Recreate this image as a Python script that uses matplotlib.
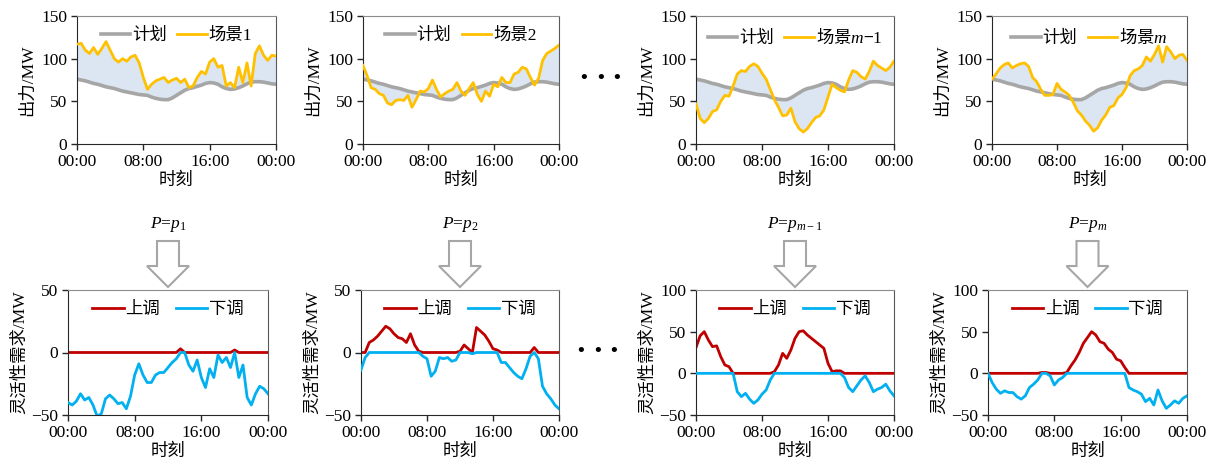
import numpy as np
import matplotlib
matplotlib.use("Agg")
import matplotlib.pyplot as plt
from matplotlib.patches import FancyArrow

plt.rcParams["font.family"] = ["Liberation Serif", "Noto Sans CJK SC"]
plt.rcParams["font.size"] = 12
plt.rcParams["axes.unicode_minus"] = True
plt.rcParams["mathtext.fontset"] = "custom"
plt.rcParams["mathtext.rm"] = "Liberation Serif"
plt.rcParams["mathtext.it"] = "Liberation Serif:italic"

# half-hour time grid, 00:00 .. 24:00
hours = np.arange(0, 24.5, 0.5)

# planned output (same in every scenario)
plan = [76, 75, 74, 72.5, 71, 70, 68.5, 67, 66, 65, 63.5, 62, 61, 60, 59, 58, 57.5,
        57, 55, 53.5, 52.5, 52, 52, 54, 57, 60, 63, 65, 66, 67.5, 69, 71, 72,
        71.5, 70, 67, 65, 64, 64.5, 66, 68, 70.5, 72.5, 73, 73, 72.5, 71.5, 70.5, 70]

scen_1 = [117, 118, 110, 106, 113, 105, 112, 120, 110, 100, 96, 100, 97, 102, 104, 95, 78,
          64, 70, 74, 76, 78, 72, 75, 77, 72, 76, 66, 68, 78, 85, 82, 96,
          100, 90, 92, 68, 72, 66, 90, 72, 95, 68, 106, 115, 104, 98, 104, 103]
scen_2 = [92, 80, 66, 64, 59, 57, 48, 46, 51, 52, 51, 57, 43, 52, 62, 61, 65,
          75, 64, 55, 59, 62, 64, 72, 62, 57, 65, 72, 58, 50, 62, 56, 70,
          67, 78, 72, 72, 82, 84, 90, 88, 78, 69, 77, 98, 106, 109, 112, 116]
scen_m1 = [47, 30, 25, 30, 38, 40, 50, 57, 56, 68, 82, 86, 85, 91, 94, 91, 83,
           76, 64, 52, 43, 33, 34, 42, 26, 18, 14, 18, 25, 31, 33, 40, 55,
           70, 66, 63, 61, 75, 86, 84, 79, 76, 85, 97, 92, 89, 86, 90, 97]
scen_m = [76, 82, 89, 93, 95, 89, 92, 94, 95, 91, 78, 73, 64, 57, 57, 58, 71,
          64, 61, 57, 49, 39, 34, 27, 22, 15, 19, 28, 34, 43, 45, 54, 58,
          66, 80, 86, 88, 92, 102, 97, 105, 115, 96, 114, 108, 100, 104, 105, 98]

# flexibility demand (positive part = 上调, negative part = 下调)
flex_1 = [-40, -42, -39, -33, -38, -36, -42, -51, -49, -37, -34, -37, -41, -40, -45, -35, -18,
          -9, -18, -24, -24, -18, -16, -16, -12, -8, -5, 3, 0, -10, -15, -6, -20,
          -28, -13, -20, -2, -8, -4, -12, 2, -20, -10, -36, -42, -33, -27, -29, -33]
flex_2 = [-14, -4, 8, 10, 13, 17, 21, 19, 15, 12, 11, 8, 15, 6, 1, -3, -5,
          -19, -15, -4, -5, -4, -7, -6, 1, 6, 3, -1, 20, 17, 14, 9, 3,
          2, -8, -8, -12, -16, -19, -21, -13, -3, 4, -5, -27, -33, -37, -42, -45]
flex_m1 = [31, 45, 50, 40, 32, 33, 20, 10, 8, 0, -22, -28, -24, -31, -36, -32, -25,
           -20, -8, 2, 10, 24, 18, 28, 42, 50, 51, 46, 42, 38, 34, 30, 12,
           2, 3, 3, -5, -17, -22, -15, -8, -3, -11, -22, -19, -17, -13, -21, -27]
flex_m = [0, -11, -19, -24, -21, -23, -23, -28, -31, -27, -17, -13, -8, 1, 1, -3, -14,
          -8, -5, 1, 9, 16, 25, 36, 43, 50, 46, 38, 36, 29, 25, 17, 15,
          7, -17, -20, -22, -25, -34, -30, -38, -20, -33, -42, -38, -33, -36, -30, -27]

scen_data = [scen_1, scen_2, scen_m1, scen_m]
flex_data = [flex_1, flex_2, flex_m1, flex_m]
scen_labels = ["场景1", "场景2", "场景$m$\u2212$1$", "场景$m$"]
p_labels = ["$P$=$p_1$", "$P$=$p_2$", "$P$=$p_{m-1}$", "$P$=$p_m$"]
flex_ylims = [(-50, 50), (-50, 50), (-50, 100), (-50, 100)]
flex_yticks = [[-50, 0, 50], [-50, 0, 50], [-50, 0, 50, 100], [-50, 0, 50, 100]]

time_ticks = [0, 8, 16, 24]
time_labels = ["00:00", "08:00", "16:00", "00:00"]

# axes boxes in pixels: left, right, top, bottom
top_boxes = [(77, 276, 16, 144), (363, 559, 16, 144), (696, 894, 16, 144), (992, 1187, 16, 144)]
bot_boxes = [(68, 268, 290, 415), (361, 559, 290, 415), (696, 894, 290, 415), (988, 1187, 290, 415)]

W, H = 1215, 468
fig = plt.figure(figsize=(W / 100, H / 100), dpi=100)


def make_ax(box):
    l, r, t, b = box
    ax = fig.add_axes([l / W, 1 - b / H, (r - l) / W, (b - t) / H])
    ax.spines["top"].set_color("#8c8c8c")
    ax.spines["right"].set_color("#595959")
    for side in ["left", "bottom"]:
        ax.spines[side].set_color("#262626")
    ax.tick_params(direction="out", length=4, width=1, color="#262626", labelsize=12.5, pad=3)
    ax.set_xlim(0, 24)
    ax.set_xticks(time_ticks)
    ax.set_xticklabels(time_labels)
    ax.set_xlabel("时刻", fontsize=12.5, labelpad=2)
    return ax


def fix_legend_fonts(leg):
    # mathtext labels need a CJK default font for the Chinese part
    for txt in leg.get_texts():
        if "$" in txt.get_text():
            txt.set_fontfamily("Noto Sans CJK SC")


for i in range(4):
    # top row: plan vs scenario
    ax = make_ax(top_boxes[i])
    ax.fill_between(hours, plan, scen_data[i], color="#dce6f2", lw=0, zorder=1)
    ax.plot(hours, plan, color="#a6a6a6", lw=2.6, label="计划", zorder=2)
    ax.plot(hours, scen_data[i], color="#ffc000", lw=2.0, label=scen_labels[i], zorder=3)
    ax.set_ylim(0, 150)
    ax.set_yticks([0, 50, 100, 150])
    ax.set_ylabel("出力/MW", fontsize=12.5, labelpad=4)
    leg = ax.legend(loc="upper center", ncol=2, frameon=False, fontsize=12.5,
                    handlelength=1.7, handletextpad=0.1, columnspacing=0.6,
                    borderaxespad=0.3)
    fix_legend_fonts(leg)

    # bottom row: flexibility demand
    ax2 = make_ax(bot_boxes[i])
    flex = np.array(flex_data[i])
    ax2.plot(hours, np.maximum(flex, 0), color="#c00000", lw=2.0, label="上调", zorder=2)
    ax2.plot(hours, np.minimum(flex, 0), color="#00b0f0", lw=2.0, label="下调", zorder=3)
    ax2.set_ylim(*flex_ylims[i])
    ax2.set_yticks(flex_yticks[i])
    ax2.set_ylabel("灵活性需求/MW", fontsize=12.5, labelpad=2)
    ax2.legend(loc="upper center", ncol=2, frameon=False, fontsize=12.5,
               handlelength=1.8, handletextpad=0.1, columnspacing=0.9,
               borderaxespad=0.3)

    # hollow arrow and probability label above each bottom panel
    l, r, t, b = bot_boxes[i]
    xc = (l + r) / 2 / 100
    arrow = FancyArrow(xc, (H - 241) / 100, 0, -0.46, width=0.22, head_width=0.42,
                       head_length=0.21, length_includes_head=True,
                       transform=fig.dpi_scale_trans, facecolor="white",
                       edgecolor="#a6a6a6", lw=1.5)
    fig.add_artist(arrow)
    fig.text(xc, (H - 225) / 100, p_labels[i], transform=fig.dpi_scale_trans,
             ha="center", va="center", fontsize=12.5)

# ellipsis dots between the second and third columns
for x in [584, 601, 617]:
    fig.text(x / W, 1 - 78 / H, "\u2022", ha="center", va="center", fontsize=13,
             family="DejaVu Sans", color="black")
for x in [581, 598, 614]:
    fig.text(x / W, 1 - 351 / H, "\u2022", ha="center", va="center", fontsize=13,
             family="DejaVu Sans", color="black")

fig.savefig("out.png", dpi=100)
